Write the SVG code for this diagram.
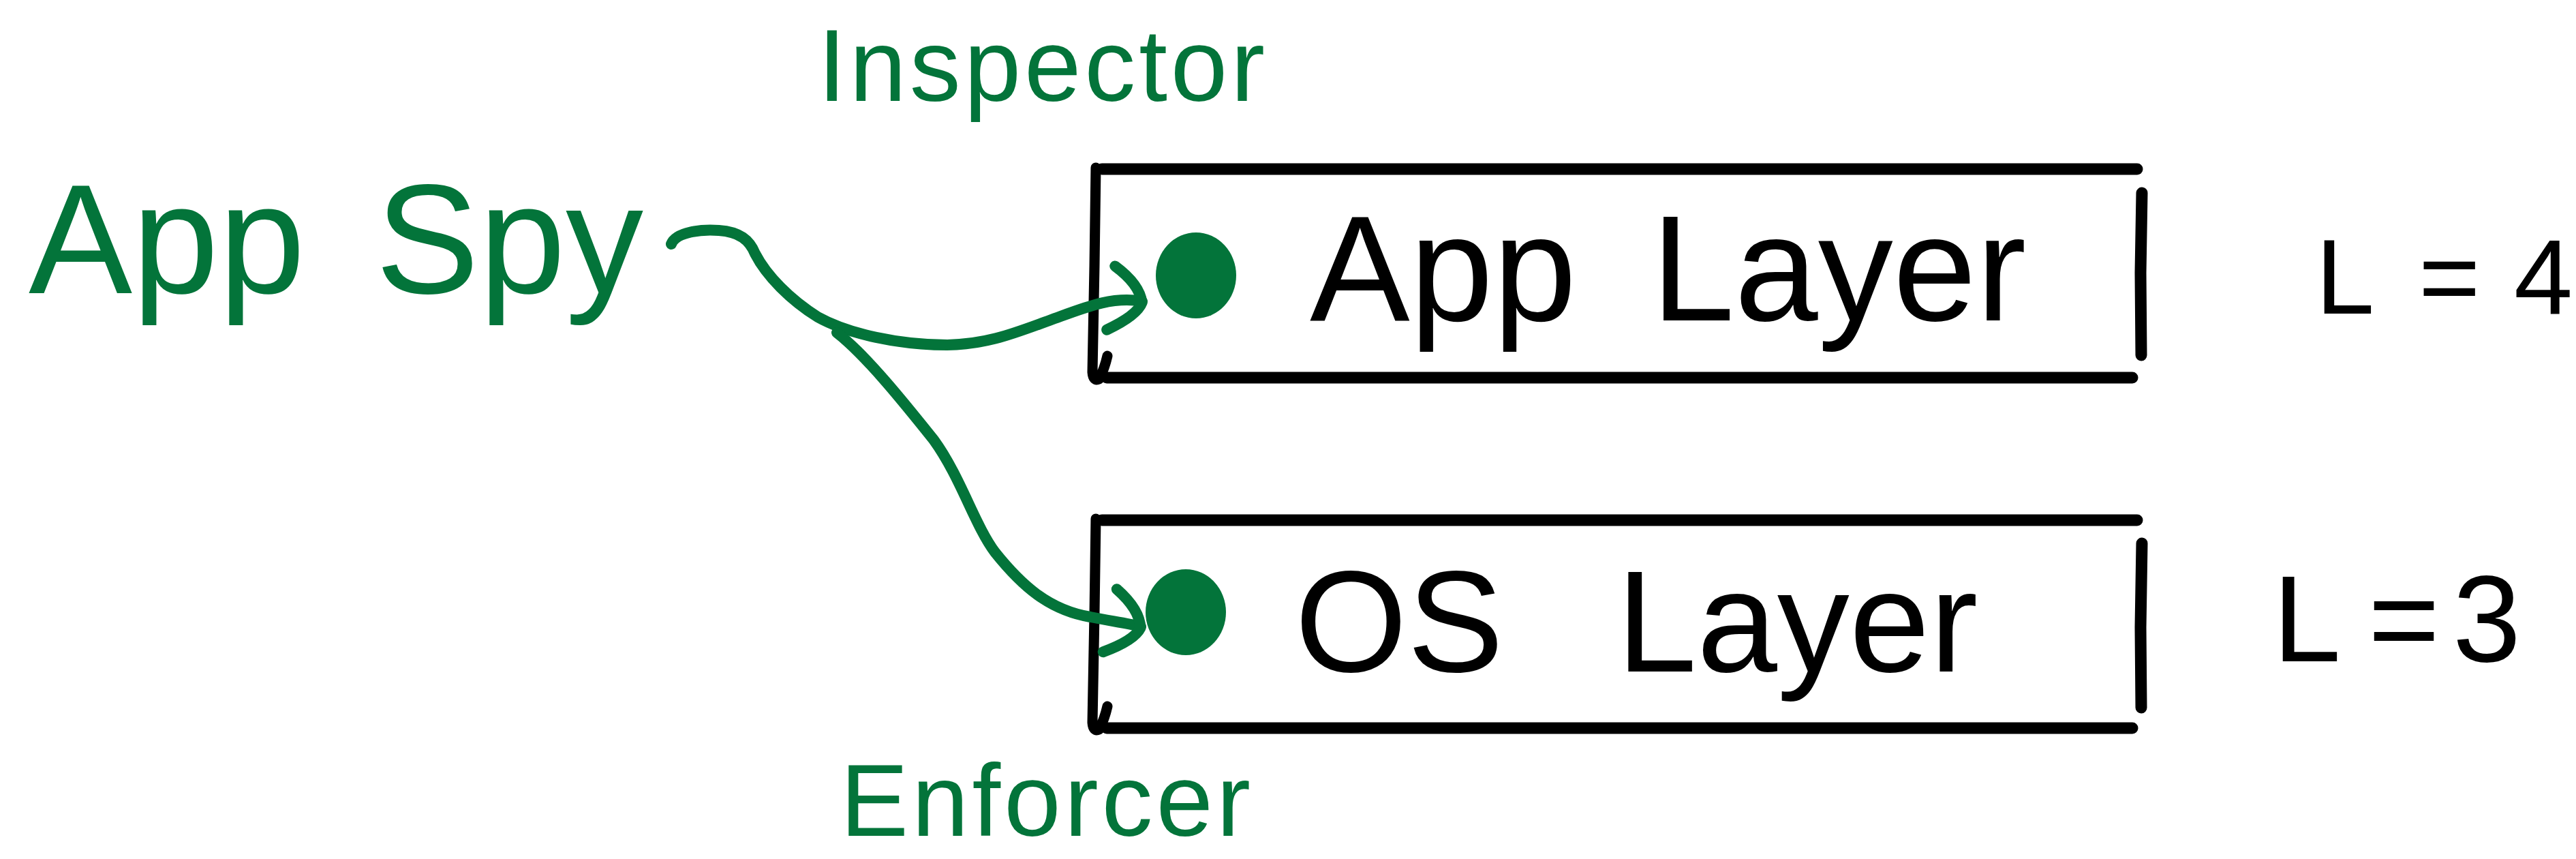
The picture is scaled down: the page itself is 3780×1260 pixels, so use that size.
<svg xmlns="http://www.w3.org/2000/svg" width="3780" height="1260" viewBox="0 0 3780 1260">
  <style>
    .ink { fill: none; stroke: #000; stroke-width: 17; stroke-linecap: round; stroke-linejoin: round; }
    .ink-thin { fill: none; stroke: #000; stroke-width: 15; stroke-linecap: round; stroke-linejoin: round; }
    .pen { fill: none; stroke: #03743a; stroke-width: 16; stroke-linecap: round; stroke-linejoin: round; }
    .dot { fill: #03743a; }
    .green { fill: #03743a; font-family: "Liberation Sans", Arial, sans-serif; }
    .black { fill: #000; font-family: "Liberation Sans", Arial, sans-serif; }
  </style>
  <defs>
    <marker id="chevron" markerUnits="userSpaceOnUse" viewBox="-70 -70 90 140" markerWidth="90" markerHeight="140" refX="0" refY="0" orient="auto" overflow="visible">
      <path class="pen" d="M -48 -44 Q -8 -24 0 2 Q -4 22 -44 50"/>
    </marker>
  </defs>

  <rect width="3780" height="1260" fill="#fff"/>

  <!-- source label -->
  <g id="app-spy">
    <text class="green" font-size="228" y="430"><tspan x="42">App</tspan> <tspan x="551">Spy</tspan></text>
  </g>

  <!-- edge labels -->
  <g id="inspector">
    <text class="green" font-size="150" x="1200" y="148" textLength="656" lengthAdjust="spacing">Inspector</text>
  </g>
  <g id="enforcer">
    <text class="green" font-size="150" x="1233" y="1226" textLength="602" lengthAdjust="spacing">Enforcer</text>
  </g>

  <!-- upper layer box -->
  <g id="app-layer">
    <path class="ink" d="M 1617 248 L 3136 248"/>
    <path class="ink" d="M 1624 554 L 3129 554"/>
    <path class="ink-thin" d="M 1608 246 L 1606 390 L 1603 546 Q 1604 560 1613 556 Q 1621 540 1625 522"/>
    <path class="ink" d="M 3143 283 L 3141 400 L 3142 521"/>
    <ellipse class="dot" cx="1755" cy="404" rx="59" ry="63"/>
    <text class="black" font-size="220" y="470"><tspan x="1922">App</tspan> <tspan x="2423">Layer</tspan></text>
    <text class="black" font-size="155" y="460"><tspan x="3398">L</tspan> <tspan x="3549">=</tspan> <tspan x="3689">4</tspan></text>
  </g>

  <!-- lower layer box -->
  <g id="os-layer">
    <path class="ink" d="M 1617 763 L 3136 763"/>
    <path class="ink" d="M 1624 1068 L 3129 1068"/>
    <path class="ink-thin" d="M 1608 761 L 1606 900 L 1603 1060 Q 1604 1074 1613 1070 Q 1621 1054 1625 1036"/>
    <path class="ink" d="M 3143 797 L 3141 920 L 3142 1038"/>
    <ellipse class="dot" cx="1740" cy="898" rx="59" ry="63"/>
    <text class="black" font-size="212" y="985"><tspan x="1900">OS</tspan> <tspan x="2372">Layer</tspan></text>
    <text class="black" font-size="180" y="970"><tspan x="3335">L</tspan><tspan x="3475">=</tspan><tspan x="3599">3</tspan></text>
  </g>

  <!-- connectors -->
  <g id="connectors">
    <path class="pen" marker-end="url(#chevron)" d="M 985 358 C 992 340, 1030 336, 1055 338 C 1085 340, 1100 352, 1108 372 C 1125 405, 1160 440, 1200 465 C 1245 490, 1320 506, 1390 506 C 1450 505, 1490 488, 1540 470 C 1590 452, 1630 434, 1676 442"/>
    <path class="pen" marker-end="url(#chevron)" d="M 1228 488 C 1270 520, 1330 595, 1370 645 C 1410 700, 1430 770, 1460 810 C 1500 860, 1540 895, 1600 905 C 1630 911, 1655 914, 1674 919"/>
  </g>
</svg>
